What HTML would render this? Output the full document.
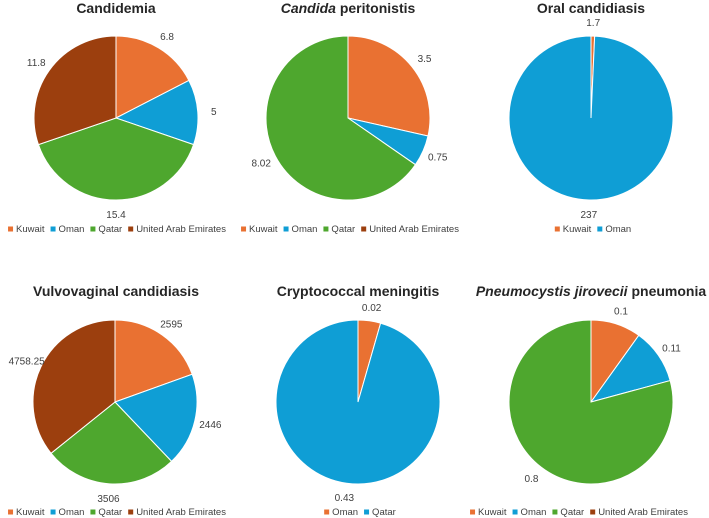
<!DOCTYPE html>
<html><head><meta charset="utf-8"><style>
html,body{margin:0;padding:0;background:#fff;}
svg{display:block;font-family:"Liberation Sans",sans-serif;}
</style></head><body>
<svg id="c" width="709" height="518" viewBox="0 0 709 518"></svg>
<script>
const countries=["Kuwait","Oman","Qatar","United Arab Emirates"];
const colors={"Kuwait":"#E97132","Oman":"#0F9ED5","Qatar":"#4EA72E","United Arab Emirates":"#9C3F0E"};
const candidemiaCats=["Kuwait","Oman","Qatar","United Arab Emirates"];
const candidemiaVals=[6.8,5,15.4,11.8];
const candidemiaLbls=["6.8","5","15.4","11.8"];
const peritonitisCats=["Kuwait","Oman","Qatar"];
const peritonitisVals=[3.5,0.75,8.02];
const peritonitisLbls=["3.5","0.75","8.02"];
const oralCats=["Kuwait","Oman"];
const oralVals=[1.7,237];
const oralLbls=["1.7","237"];
const vvcCats=["Kuwait","Oman","Qatar","United Arab Emirates"];
const vvcVals=[2595,2446,3506,4758.25];
const vvcLbls=["2595","2446","3506","4758.25"];
const cryptoCats=["Oman","Qatar"];
const cryptoColors=["#E97132","#0F9ED5"];
const cryptoVals=[0.02,0.43];
const cryptoLbls=["0.02","0.43"];
const pjpCats=["Kuwait","Oman","Qatar"];
const pjpVals=[0.1,0.11,0.8];
const pjpLbls=["0.1","0.11","0.8"];

const NS="http://www.w3.org/2000/svg";
const svg=document.getElementById('c');
function mk(tag,attrs,parent){const e=document.createElementNS(NS,tag);for(const k in attrs)e.setAttribute(k,attrs[k]);(parent||svg).appendChild(e);return e;}

function pie(o){
  const g=mk('g',{});
  
  
  const t=mk('text',{x:o.tx,y:o.ty,'text-anchor':'middle','font-size':14,'font-weight':'bold',fill:'#262626'},g);
  
  
  o.title.forEach(p=>{const s=mk('tspan',{},t);if(p[1])s.setAttribute('font-style','italic');s.textContent=p[0];});
  const total=o.vals.reduce((a,b)=>a+b,0);
  let acc=0;const r=82;
  o.vals.forEach((v,i)=>{
    const a0=acc/total*2*Math.PI;acc+=v;const a1=acc/total*2*Math.PI;
    const x0=o.cx+r*Math.sin(a0),y0=o.cy-r*Math.cos(a0),x1=o.cx+r*Math.sin(a1),y1=o.cy-r*Math.cos(a1);
    const large=(a1-a0)>Math.PI?1:0;
    const p=mk('path',{d:`M${o.cx},${o.cy} L${x0},${y0} A${r},${r} 0 ${large} 1 ${x1},${y1} Z`,fill:o.colors?o.colors[i]:colors[o.cats[i]],stroke:'#fff','stroke-width':1},g);
    
    
    const am=(a0+a1)/2,s=Math.sin(am),c=Math.cos(am);
    const lx=o.cx+(r+14)*s+2*s,ly=o.cy-(r+14)*c+4;
    const l=mk('text',{x:lx,y:ly,'text-anchor':'middle','font-size':10,fill:'#404040'},g);
    
    
    l.textContent=o.lbls[i];
  });
  const lg=mk('g',{},g);
  
  
  let x=0;
  o.cats.forEach((c,i)=>{
    const e=mk('g',{},lg);
    
    
    mk('rect',{x:x,y:o.ly-5.5,width:5,height:5,fill:o.colors?o.colors[i]:colors[c]},e);
    const tt=mk('text',{x:x+8,y:o.ly,'font-size':9.5,fill:'#404040'},e);
    tt.textContent=c;
    x+=8+tt.getComputedTextLength()+6;
  });
  const tw=x-6;
  lg.setAttribute('transform',`translate(${o.lx-tw/2},0)`);
}
pie({name:'candidemia-pie',title:[["Candidemia",0]],tx:116,ty:13,cx:116,cy:118,cats:candidemiaCats,vals:candidemiaVals,lbls:candidemiaLbls,lx:117,ly:232});
pie({name:'candida-peritonitis-pie',title:[["Candida",1],[" peritonistis",0]],tx:348,ty:13,cx:348,cy:118,cats:peritonitisCats.concat(["United Arab Emirates"]),vals:peritonitisVals,lbls:peritonitisLbls,lx:350,ly:232});
pie({name:'oral-candidiasis-pie',title:[["Oral candidiasis",0]],tx:591,ty:13,cx:591,cy:118,cats:oralCats,vals:oralVals,lbls:oralLbls,lx:593,ly:232});
pie({name:'vulvovaginal-candidiasis-pie',title:[["Vulvovaginal candidiasis",0]],tx:116,ty:296,cx:115,cy:402,cats:vvcCats,vals:vvcVals,lbls:vvcLbls,lx:117,ly:515});
pie({name:'cryptococcal-meningitis-pie',title:[["Cryptococcal meningitis",0]],tx:358,ty:296,cx:358,cy:402,cats:cryptoCats,colors:cryptoColors,vals:cryptoVals,lbls:cryptoLbls,lx:360,ly:515});
pie({name:'pjp-pie',title:[["Pneumocystis jirovecii",1],[" pneumonia",0]],tx:591,ty:296,cx:591,cy:402,cats:pjpCats.concat(["United Arab Emirates"]),vals:pjpVals,lbls:pjpLbls,lx:579,ly:515});
</script>
</body></html>
